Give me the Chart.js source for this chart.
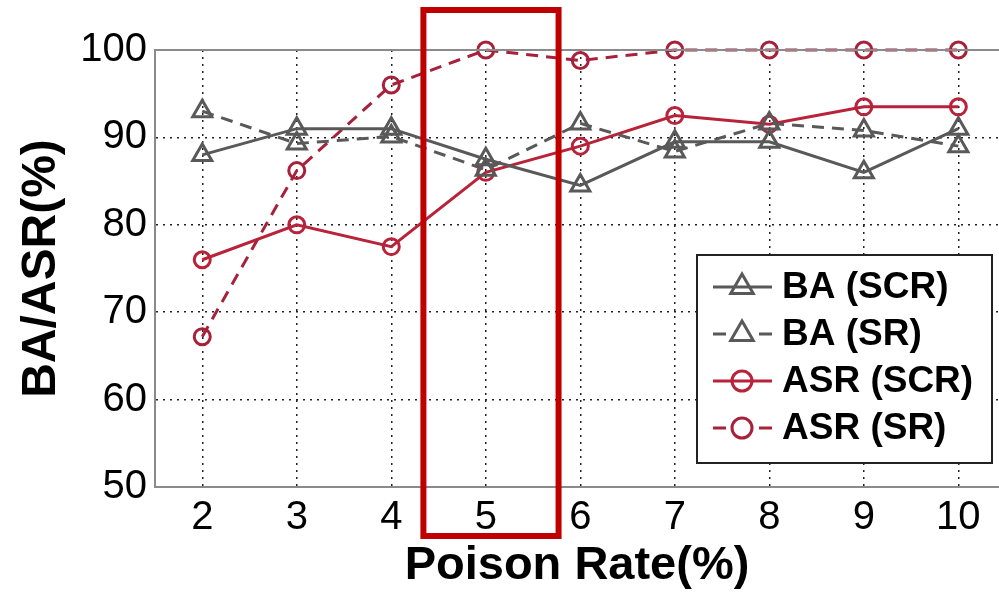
<!DOCTYPE html>
<html>
<head>
<meta charset="utf-8">
<script src="https://cdn.jsdelivr.net/npm/chart.js@4"></script>
<style>
  body { margin: 0; background: #fff; }
  canvas { display: block; }
</style>
</head>
<body>
<canvas id="chart" width="999" height="594"></canvas>
<script>
// valores
const poisonRate = [2, 3, 4, 5, 6, 7, 8, 9, 10];
const baSCR  = [88, 91, 91, 87.5, 84.5, 89.5, 89.5, 86, 91];
const baSR   = [93, 89.3, 90.1, 86.3, 91.6, 88.4, 91.6, 90.8, 89];
const asrSCR = [76, 80, 77.5, 86, 89, 92.5, 91.5, 93.5, 93.5];
const asrSR  = [67.2, 86.2, 96, 100, 98.8, 100, 100, 100, 100];
const yTicks = [50, 60, 70, 80, 90, 100];
const highlight = [4.34, 5.77]; // recuadro rojo alrededor de 5%

const GRAY = '#595959';
const RED  = '#b8233a';
const RED_D = '#a8213a';
const FONT = "'Liberation Sans', Arial, sans-serif";

const pts = arr => arr.map((v, i) => ({ x: poisonRate[i], y: v }));

function series(label, data, color, dashed, style) {
  return {
    label,
    data:             pts(data),
    borderColor:      color,
    backgroundColor:  'transparent',
    borderWidth:      3,
    borderDash:       dashed ? [12, 8] : [],
    pointStyle:       style,
    pointRadius:      style === 'triangle' ? 11 : 8,
    pointBorderWidth: 3,
    pointBorderColor: color,
    pointBackgroundColor: 'transparent',
    tension: 0,
    clip: false,
  };
}

const extras = {
  id: 'extras',
  afterDraw(chart) {
    const { ctx, chartArea: a, scales: { x } } = chart;
    // línea superior del marco
    ctx.save();
    ctx.strokeStyle = '#8a8a8a';
    ctx.lineWidth = 2;
    ctx.beginPath();
    ctx.moveTo(a.left, a.top);
    ctx.lineTo(a.right, a.top);
    ctx.stroke();
    ctx.restore();

    // leyenda dentro del área
    const box = { x: 697, y: 255, w: 295, h: 208 };
    ctx.save();
    ctx.fillStyle = '#fff';
    ctx.fillRect(box.x, box.y, box.w, box.h);
    ctx.strokeStyle = '#222';
    ctx.lineWidth = 2;
    ctx.strokeRect(box.x, box.y, box.w, box.h);
    chart.data.datasets.forEach((ds, i) => {
      const cy = box.y + 32 + i * 47;
      ctx.strokeStyle = ds.borderColor;
      ctx.lineWidth = 3;
      ctx.setLineDash(ds.borderDash.length ? [13, 33] : []);
      ctx.beginPath();
      ctx.moveTo(713, cy);
      ctx.lineTo(772, cy);
      ctx.stroke();
      ctx.setLineDash([]);
      ctx.fillStyle = 'transparent';
      Chart.helpers.drawPoint(ctx, {
        pointStyle: ds.pointStyle, radius: ds.pointStyle === 'triangle' ? 13 : 10,
        rotation: 0, borderWidth: 3,
      }, 742, cy);
      ctx.fillStyle = '#000';
      ctx.font = `bold 37px ${FONT}`;
      ctx.textBaseline = 'middle';
      ctx.fillText(ds.label, 782, cy + 1);
    });
    ctx.restore();

    // recuadro rojo
    ctx.save();
    ctx.strokeStyle = '#c00000';
    ctx.lineWidth = 6;
    const x1 = x.getPixelForValue(highlight[0]);
    const x2 = x.getPixelForValue(highlight[1]);
    ctx.strokeRect(x1, 10, x2 - x1, 526);
    ctx.restore();
  },
};

new Chart(document.getElementById('chart'), {
  type: 'line',
  data: {
    datasets: [
      series('BA (SCR)',  baSCR,  GRAY,  false, 'triangle'),
      series('BA (SR)',   baSR,   GRAY,  true,  'triangle'),
      series('ASR (SCR)', asrSCR, RED,   false, 'circle'),
      series('ASR (SR)',  asrSR,  RED_D, true,  'circle'),
    ],
  },
  options: {
    responsive: false,
    devicePixelRatio: 1,
    animation: false,
    layout: { autoPadding: false, padding: { top: 50, right: 0, left: 0, bottom: 0 } },
    plugins: { legend: { display: false }, tooltip: { enabled: false } },
    scales: {
      x: {
        type: 'linear',
        min: 1.5,
        max: 10.43,
        afterBuildTicks: s => { s.ticks = poisonRate.map(v => ({ value: v })); },
        afterFit: s => { s.height = 107; s.paddingLeft = 0; s.paddingRight = 0; },
        ticks: { color: '#000', font: { family: FONT, size: 40 }, padding: 7 },
        grid: { color: '#222', lineWidth: 1.5, drawTicks: false },
        border: { color: '#8a8a8a', width: 2, dash: [2, 5] },
        title: {
          display: true, text: 'Poison Rate(%)', color: '#000',
          font: { family: FONT, size: 47, weight: 'bold' }, padding: { top: 0, bottom: 0 },
        },
      },
      y: {
        min: 50,
        max: 100,
        afterBuildTicks: s => { s.ticks = yTicks.map(v => ({ value: v })); },
        afterFit: s => { s.width = 155; },
        ticks: { color: '#000', font: { family: FONT, size: 40 }, padding: 8 },
        grid: { color: '#222', lineWidth: 1.5, drawTicks: false },
        border: { color: '#8a8a8a', width: 2, dash: [2, 5] },
        title: {
          display: true, text: 'BA/ASR(%)', color: '#000',
          font: { family: FONT, size: 48, weight: 'bold' }, padding: { top: 13, bottom: 0 },
        },
      },
    },
  },
  plugins: [extras],
});
</script>
</body>
</html>
